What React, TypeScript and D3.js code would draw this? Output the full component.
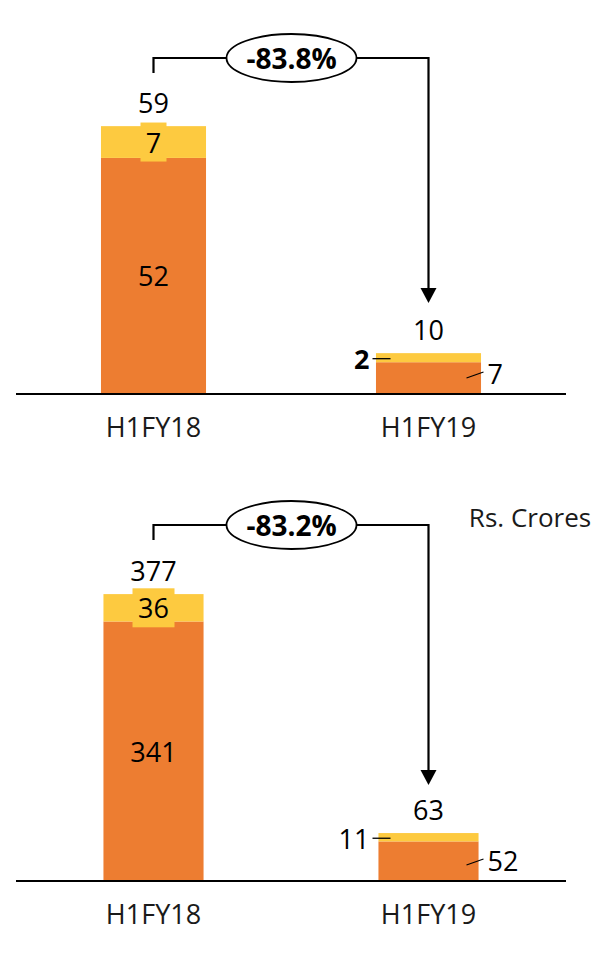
import React from "react";
import * as d3 from "d3";

const categories = ["H1FY18", "H1FY19"];
const topBase = [52, 7];
const topExtra = [7, 2];
const topTotals = ["59", "10"];
const topChange = "-83.8%";
const botBase = [341, 52];
const botExtra = [36, 11];
const botTotals = ["377", "63"];
const botChange = "-83.2%";
const unitLabel = "Rs. Crores";

const ORANGE = "#ED7D31";
const YELLOW = "#FDCA40";
const FONT = "'Open Sans', 'Noto Sans', sans-serif";
const FS = 27;

type PanelProps = {
  base: number[];
  extra: number[];
  totals: string[];
  change: string;
  baseline: number;
  pxPerUnit: number;
  barPad: number;
  boxW: number;
  bracketY: number;
  arrowTip: number;
  boldSmall: boolean;
};

function Panel(p: PanelProps) {
  const x = d3
    .scaleBand<string>()
    .domain(categories)
    .range([16, 566])
    .paddingInner(p.barPad)
    .paddingOuter(p.barPad / 2);
  const maxV = 400 / p.pxPerUnit;
  const y = d3.scaleLinear().domain([0, maxV]).range([p.baseline, p.baseline - 400]);
  const bw = x.bandwidth();
  const c0 = (x(categories[0]) as number) + bw / 2;
  const c1 = (x(categories[1]) as number) + bw / 2;

  const stacks = categories.map((c, i) => ({
    c,
    b0: y(0),
    b1: y(p.base[i]),
    e1: y(p.base[i] + p.extra[i]),
  }));

  const ellCx = 291.5;
  const rx = 65;
  const ry = 24;
  const bY = p.bracketY;
  const s0 = stacks[0];
  const s1 = stacks[1];
  return (
    <g>
      {stacks.map((s) => (
        <g key={s.c}>
          <rect x={x(s.c)} y={s.b1} width={bw} height={s.b0 - s.b1} fill={ORANGE} />
          <rect x={x(s.c)} y={s.e1} width={bw} height={s.b1 - s.e1} fill={YELLOW} />
        </g>
      ))}
      {/* first bar labels */}
      <rect x={c0 - p.boxW / 2} y={(s0.e1 + s0.b1) / 2 - 19.5} width={p.boxW} height={39} fill={YELLOW} />
      <text x={c0} y={(s0.e1 + s0.b1) / 2} textAnchor="middle" dominantBaseline="central" fontSize={FS} fontFamily={FONT} fill="#000">
        {p.extra[0]}
      </text>
      <text x={c0} y={(s0.b0 + s0.b1) / 2} textAnchor="middle" dominantBaseline="central" fontSize={FS} fontFamily={FONT} fill="#000">
        {p.base[0]}
      </text>
      <text x={c0} y={s0.e1 - 24} textAnchor="middle" dominantBaseline="central" fontSize={FS} fontFamily={FONT} fill="#000">
        {p.totals[0]}
      </text>
      {/* second bar labels */}
      <text x={c1} y={s1.e1 - 24} textAnchor="middle" dominantBaseline="central" fontSize={FS} fontFamily={FONT} fill="#000">
        {p.totals[1]}
      </text>
      <line x1={c1 - 56} x2={c1 - 38} y1={(s1.e1 + s1.b1) / 2 + 1} y2={(s1.e1 + s1.b1) / 2 + 1} stroke="#000" strokeWidth={1.3} />
      <text x={c1 - 59} y={(s1.e1 + s1.b1) / 2 + 1} textAnchor="end" dominantBaseline="central" fontSize={FS} fontWeight={p.boldSmall ? 700 : 400} fontFamily={FONT} fill="#000">
        {p.extra[1]}
      </text>
      <line x1={c1 + 38} x2={c1 + 55} y1={s1.b0 - 16} y2={s1.b0 - 22} stroke="#000" strokeWidth={1.3} />
      <text x={c1 + 59} y={s1.b0 - 21} textAnchor="start" dominantBaseline="central" fontSize={FS} fontFamily={FONT} fill="#000">
        {p.base[1]}
      </text>
      {/* baseline */}
      <line x1={16} x2={566} y1={p.baseline} y2={p.baseline} stroke="#000" strokeWidth={2} />
      {/* category labels */}
      {categories.map((c) => (
        <text key={c} x={(x(c) as number) + bw / 2} y={p.baseline + 32} textAnchor="middle" dominantBaseline="central" fontSize={FS} fontFamily={FONT} fill="#1a1a1a">
          {c}
        </text>
      ))}
      {/* bracket */}
      <path
        d={`M${c0},${bY + 15} V${bY} H${ellCx - rx} M${ellCx + rx},${bY} H${c1} V${p.arrowTip - 14}`}
        fill="none"
        stroke="#000"
        strokeWidth={2.2}
      />
      <path d={`M${c1 - 8},${p.arrowTip - 15} L${c1 + 8},${p.arrowTip - 15} L${c1},${p.arrowTip} Z`} fill="#000" />
      <ellipse cx={ellCx} cy={bY} rx={rx} ry={ry} fill="#fff" stroke="#000" strokeWidth={1.8} />
      <text x={ellCx} y={bY} textAnchor="middle" dominantBaseline="central" fontSize={28} fontWeight={700} fontFamily={FONT} fill="#000">
        {p.change}
      </text>
    </g>
  );
}

export default function App() {
  return (
    <svg width={615} height={958} style={{ position: "absolute", left: 0, top: 0 }}>
      <rect width={615} height={958} fill="#fff" />
      <Panel
        base={topBase}
        extra={topExtra}
        totals={topTotals}
        change={topChange}
        baseline={394}
        pxPerUnit={4.54}
        barPad={0.618}
        boxW={26}
        bracketY={58}
        arrowTip={303}
        boldSmall={true}
      />
      <Panel
        base={botBase}
        extra={botExtra}
        totals={botTotals}
        change={botChange}
        baseline={881}
        pxPerUnit={0.761}
        barPad={0.636}
        boxW={42}
        bracketY={525}
        arrowTip={785}
        boldSmall={false}
      />
      <text x={530} y={517} textAnchor="middle" dominantBaseline="central" fontSize={26} fontFamily={FONT} fill="#1a1a1a">
        {unitLabel}
      </text>
    </svg>
  );
}
